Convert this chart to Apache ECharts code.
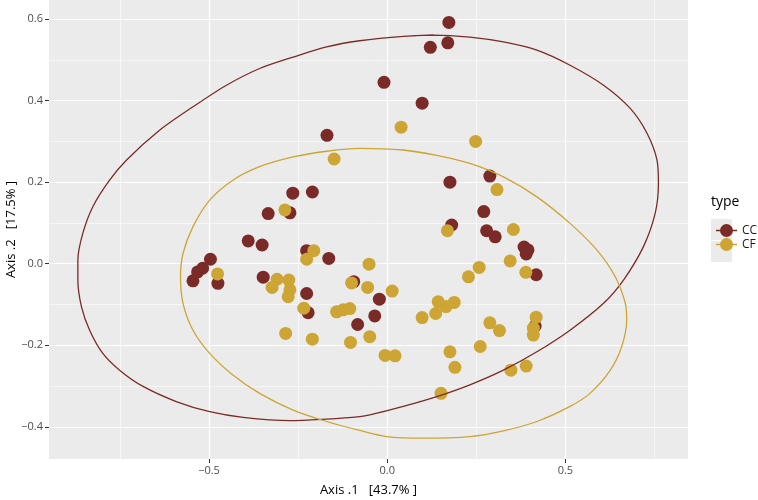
<!DOCTYPE html>
<html>
<head>
<meta charset="utf-8">
<script src="https://cdn.jsdelivr.net/npm/echarts@6/dist/echarts.min.js"></script>
<style>
html,body{margin:0;padding:0;background:#fff;}
#chart{width:758px;height:500px;}
</style>
</head>
<body>
<div id="chart"></div>
<script>
// ---- data ----
const groups = ['CC', 'CF'];
const ccX = [0.173,0.170,0.121,-0.009,0.098,-0.169,-0.265,-0.210,-0.334,-0.273,-0.390,-0.351,-0.496,-0.518,-0.532,-0.545,-0.475,-0.348,-0.226,-0.164,-0.226,-0.222,-0.094,-0.083,-0.035,-0.022,0.176,0.288,0.271,0.181,0.279,0.303,0.384,0.395,0.390,0.418,0.415];
const ccY = [0.592,0.542,0.531,0.445,0.394,0.315,0.173,0.176,0.123,0.125,0.056,0.046,0.011,-0.011,-0.020,-0.042,-0.048,-0.033,0.032,0.013,-0.073,-0.120,-0.044,-0.149,-0.128,-0.087,0.200,0.215,0.128,0.095,0.081,0.066,0.041,0.034,0.024,-0.027,-0.153];
const cfX = [-0.149,-0.287,0.039,0.248,0.308,0.169,0.354,-0.206,-0.226,-0.476,-0.051,-0.100,-0.055,-0.309,-0.323,-0.276,-0.273,-0.278,-0.234,-0.142,-0.124,-0.105,-0.285,-0.210,-0.103,-0.049,0.014,-0.006,0.022,0.098,0.136,0.143,0.165,0.188,0.228,0.258,0.345,0.389,0.288,0.315,0.418,0.410,0.410,0.176,0.190,0.261,0.347,0.390,0.151];
const cfY = [0.257,0.132,0.335,0.300,0.182,0.081,0.084,0.032,0.011,-0.025,-0.001,-0.047,-0.058,-0.038,-0.058,-0.040,-0.064,-0.081,-0.109,-0.118,-0.113,-0.110,-0.171,-0.185,-0.193,-0.179,-0.067,-0.225,-0.226,-0.132,-0.122,-0.093,-0.105,-0.095,-0.032,-0.009,0.007,-0.021,-0.145,-0.164,-0.131,-0.158,-0.175,-0.216,-0.254,-0.203,-0.261,-0.251,-0.318];
// ellipse outlines (closed loops)
const ccEllX = [0.045,0.129,0.232,0.326,0.420,0.513,0.607,0.682,0.729,0.757,0.761,0.752,0.719,0.663,0.607,0.513,0.420,0.326,0.232,0.139,0.045,-0.049,-0.077,-0.170,-0.273,-0.404,-0.498,-0.592,-0.685,-0.751,-0.798,-0.835,-0.858,-0.868,-0.868,-0.854,-0.826,-0.779,-0.732,-0.638,-0.545,-0.451,-0.358,-0.264,-0.170,-0.077];
const ccEllY = [0.558,0.561,0.556,0.544,0.524,0.487,0.438,0.381,0.320,0.254,0.197,0.124,0.042,-0.040,-0.097,-0.163,-0.216,-0.261,-0.297,-0.326,-0.350,-0.371,-0.375,-0.381,-0.385,-0.377,-0.363,-0.338,-0.301,-0.261,-0.220,-0.163,-0.105,-0.040,0.009,0.075,0.140,0.205,0.254,0.328,0.385,0.438,0.479,0.507,0.532,0.547];
const cfEllX = [0.045,0.139,0.232,0.326,0.420,0.513,0.588,0.640,0.668,0.672,0.658,0.626,0.569,0.513,0.420,0.326,0.232,0.101,-0.002,-0.077,-0.170,-0.264,-0.358,-0.433,-0.498,-0.545,-0.573,-0.580,-0.573,-0.545,-0.498,-0.433,-0.358,-0.264,-0.170,-0.077];
const cfEllY = [0.279,0.266,0.246,0.213,0.164,0.099,0.034,-0.032,-0.097,-0.138,-0.203,-0.261,-0.318,-0.350,-0.387,-0.410,-0.424,-0.428,-0.424,-0.409,-0.387,-0.359,-0.318,-0.273,-0.220,-0.163,-0.097,-0.032,0.025,0.091,0.156,0.205,0.238,0.262,0.276,0.283];
const xMajor = [-0.5, 0, 0.5];
const xMinor = [-0.75, -0.25, 0.25, 0.75];
const yMajor = [-0.4, -0.2, 0, 0.2, 0.4, 0.6];
const yMinor = [-0.3, -0.1, 0.1, 0.3, 0.5];
const xRange = [-0.949, 0.844];
const yRange = [-0.479, 0.647];
const xTitle = 'Axis .1   [43.7% ]';
const yTitle = 'Axis .2   [17.5% ]';
const legendTitle = 'type';

// ---- styles ----
const colors = {CC: '#7B2B27', CF: '#CDA534'};
const FONT = 'Open Sans';
const GRID = {left: 49, right: 70, top: 0, bottom: 41, outerBoundsMode: 'none', containLabel: false};
const zip = (a, b) => a.map((v, i) => [v, b[i]]);
// close loop with a small overlap so the seam is smooth
const loop = (a, b) => { const p = zip(a, b); return p.concat([p[0], p[1]]); };
const fmt = v => (v < 0 ? '\u2212' : '') + Math.abs(v).toFixed(1);

const iconPath = 'path://M0,9.8 L4.5,9.8 L4.5,11.2 L0,11.2 Z M16.5,9.8 L21,9.8 L21,11.2 L16.5,11.2 Z M4,10.5 A6.5,6.5 0 1 1 17,10.5 A6.5,6.5 0 1 1 4,10.5 Z';

function mainAxis(range, ticks, isX) {
  return {
    type: 'value', min: range[0], max: range[1],
    name: isX ? xTitle : yTitle,
    nameLocation: 'middle',
    nameGap: isX ? 25 : 31,
    nameMoveOverlap: isX,
    nameTextStyle: {fontFamily: FONT, fontSize: 13, color: '#000'},
    axisLine: {show: false, onZero: false},
    axisTick: {show: true, length: 4, lineStyle: {color: '#333', width: 1}, customValues: ticks},
    axisLabel: {show: true, customValues: ticks, formatter: fmt, fontFamily: FONT, fontSize: 11, color: '#4D4D4D', margin: 6},
    splitLine: {show: true, lineStyle: {color: '#fff', width: 1.2}},
    minorSplitLine: {show: false},
    z: 1
  };
}
function minorAxis(range, ticks) {
  return {
    type: 'value', min: range[0], max: range[1], show: true,
    axisLine: {show: false, onZero: false},
    axisTick: {show: false, customValues: ticks},
    axisLabel: {show: false, customValues: ticks},
    splitLine: {show: true, lineStyle: {color: '#fff', width: 0.6}},
    z: 0
  };
}

const series = [];
series.push({name: 'CC', type: 'scatter', xAxisIndex: 0, yAxisIndex: 0, data: zip(ccX, ccY), symbol: 'circle', symbolSize: 13, itemStyle: {color: colors.CC, opacity: 1}, z: 3});
series.push({name: 'CF', type: 'scatter', xAxisIndex: 0, yAxisIndex: 0, data: zip(cfX, cfY), symbol: 'circle', symbolSize: 13, itemStyle: {color: colors.CF, opacity: 1}, z: 4});
series.push({name: 'CC ellipse', type: 'line', xAxisIndex: 0, yAxisIndex: 0, data: loop(ccEllX, ccEllY), showSymbol: false, smooth: 0.3, lineStyle: {color: colors.CC, width: 1.3}, silent: true, z: 5});
series.push({name: 'CF ellipse', type: 'line', xAxisIndex: 0, yAxisIndex: 0, data: loop(cfEllX, cfEllY), showSymbol: false, smooth: 0.3, lineStyle: {color: colors.CF, width: 1.3}, silent: true, z: 5});

const chart = echarts.init(document.getElementById('chart'), null, {renderer: 'canvas'});
chart.setOption({
  backgroundColor: '#fff',
  animation: false,
  grid: [
    Object.assign({show: true, backgroundColor: '#EBEBEB', borderWidth: 0}, GRID),
    Object.assign({show: false}, GRID)
  ],
  xAxis: [Object.assign(mainAxis(xRange, xMajor, true), {gridIndex: 0}), Object.assign(minorAxis(xRange, xMinor), {gridIndex: 1})],
  yAxis: [Object.assign(mainAxis(yRange, yMajor, false), {gridIndex: 0}), Object.assign(minorAxis(yRange, yMinor), {gridIndex: 1})],
  legend: {
    data: groups.map(g => ({name: g, icon: iconPath})),
    orient: 'vertical', left: 711, top: 219,
    itemWidth: 21, itemHeight: 21, itemGap: 1,
    textStyle: {fontFamily: FONT, fontSize: 12, color: '#1A1A1A'},
    selectedMode: false
  },
  graphic: [
    {type: 'text', left: 711, top: 195, style: {text: legendTitle, fontFamily: FONT, fontSize: 14, fill: '#000'}},
    {type: 'rect', left: 711, top: 219, shape: {width: 21, height: 21}, style: {fill: '#EBEBEB'}, z: -1},
    {type: 'rect', left: 711, top: 241, shape: {width: 21, height: 21}, style: {fill: '#EBEBEB'}, z: -1}
  ],
  series: series
});
</script>
</body>
</html>
